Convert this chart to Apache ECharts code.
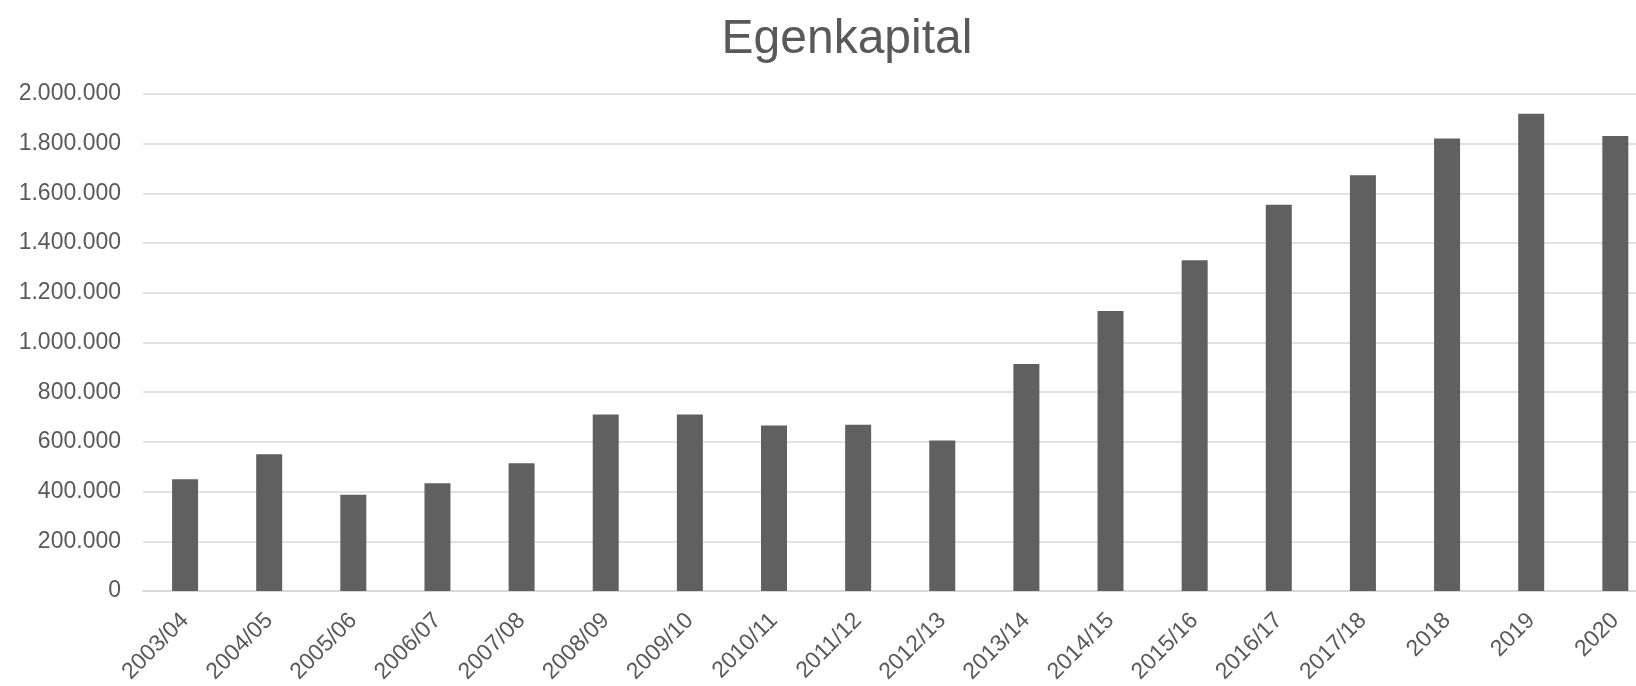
<!DOCTYPE html>
<html>
<head>
<meta charset="utf-8">
<script src="https://cdn.jsdelivr.net/npm/echarts@6/dist/echarts.min.js"></script>
<style>
html,body{margin:0;padding:0;background:#fff;overflow:hidden;width:1636px;height:686px;}
#chart{width:1658px;height:686px;}
</style>
</head>
<body>
<div id="chart"></div>
<script>
const titleText = "Egenkapital";
const categories = ["2003/04","2004/05","2005/06","2006/07","2007/08","2008/09","2009/10","2010/11","2011/12","2012/13","2013/14","2014/15","2015/16","2016/17","2017/18","2018","2019","2020"];
const values = [450000, 550000, 387000, 433000, 514000, 710000, 710000, 666000, 669000, 606000, 913000, 1127000, 1331000, 1554000, 1673000, 1821000, 1921000, 1831000];
const yMin = 0, yMax = 2000000, yStep = 200000;

function fmt(v){
  return String(Math.round(v)).replace(/\B(?=(\d{3})+(?!\d))/g, ".");
}

const chart = echarts.init(document.getElementById('chart'), null, {renderer:'canvas'});
chart.setOption({
  animation: false,
  backgroundColor: '#ffffff',
  textStyle: {fontFamily: 'Liberation Sans, Arial, sans-serif'},
  title: {
    text: titleText,
    left: 842, top: 11,
    textAlign: 'center',
    textStyle: {fontSize: 48, fontWeight: 'normal', color: '#595959', fontFamily: 'Liberation Sans, Arial, sans-serif'}
  },
  grid: {left: 143, top: 94, width: 1514.4, height: 499.3, containLabel: false},
  xAxis: {
    type: 'category',
    data: categories,
    axisLine: {show: true, lineStyle: {color: '#d9d9d9', width: 2}},
    axisTick: {show: false},
    axisLabel: {interval: 0, rotate: 45, margin: 26, fontSize: 23, color: '#595959', fontFamily: 'Liberation Sans, Arial, sans-serif'}
  },
  yAxis: {
    type: 'value',
    min: yMin, max: yMax, interval: yStep,
    axisLine: {show: false},
    axisTick: {show: false},
    splitLine: {show: true, lineStyle: {color: '#d9d9d9', width: 1.5}},
    axisLabel: {margin: 22, fontSize: 23, color: '#595959', formatter: fmt, fontFamily: 'Liberation Sans, Arial, sans-serif'}
  },
  series: [{
    type: 'bar',
    data: values,
    barWidth: 26,
    itemStyle: {color: '#606060'}
  }]
});
</script>
</body>
</html>
